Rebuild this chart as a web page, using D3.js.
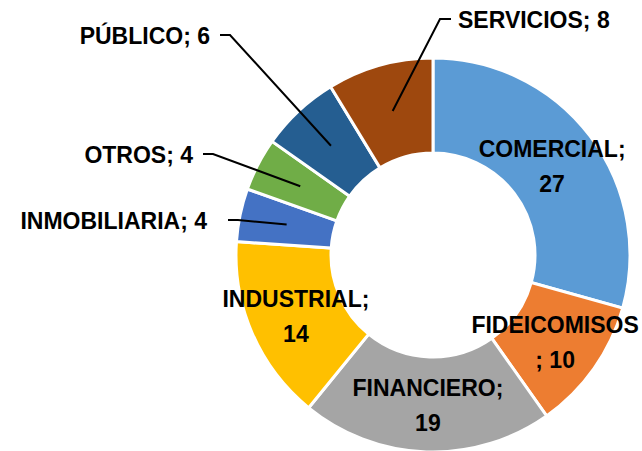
<!DOCTYPE html>
<html>
<head>
<meta charset="utf-8">
<script src="https://cdn.jsdelivr.net/npm/d3@7/dist/d3.min.js"></script>
<style>
  html, body { margin: 0; padding: 0; background: #fff; }
  svg { display: block; }
  text { font-family: "Liberation Sans", Arial, sans-serif; font-weight: bold; font-size: 23px; fill: #000; }
</style>
</head>
<body>
<div id="chart"></div>
<script>
// DATA
const categories = ["COMERCIAL", "FIDEICOMISOS", "FINANCIERO", "INDUSTRIAL", "INMOBILIARIA", "OTROS", "PÚBLICO", "SERVICIOS"];
const values = [27, 10, 19, 14, 4, 4, 6, 8];
const colors = ["#5B9BD5", "#ED7D31", "#A5A5A5", "#FFC000", "#4472C4", "#70AD47", "#255E91", "#9E480E"];

// LAYOUT
const width = 642, height = 451;
const cx = 433, cy = 255;
const outerR = 197, innerR = 102;

// labels drawn outside the ring: elbow of the leader line, side of the text, stub length, gap to text
const outsideLabels = {
  "SERVICIOS":    { elbow: [440, 19],  side: "right", stub: 11, gap: 7 },
  "PÚBLICO":      { elbow: [230, 35],  side: "left",  stub: 10, gap: 10 },
  "OTROS":        { elbow: [213, 154], side: "left",  stub: 10, gap: 10 },
  "INMOBILIARIA": { elbow: [238, 220], side: "left",  stub: 10, gap: 21 }
};
// labels inside the slice, split on two lines
const insideLines = {
  "COMERCIAL":    ["COMERCIAL;", "27"],
  "FIDEICOMISOS": ["FIDEICOMISOS", "; 10"],
  "FINANCIERO":   ["FINANCIERO;", "19"],
  "INDUSTRIAL":   ["INDUSTRIAL;", "14"]
};

const entries = categories.map((c, i) => ({ category: c, value: values[i], color: colors[i] }));

const svg = d3.select("#chart")
  .append("svg")
  .attr("width", width)
  .attr("height", height);

const pie = d3.pie().sort(null).value(d => d.value);
const arc = d3.arc().innerRadius(innerR).outerRadius(outerR);
const arcs = pie(entries);

const g = svg.append("g").attr("transform", `translate(${cx},${cy})`);

// slices
g.selectAll("path")
  .data(arcs)
  .join("path")
    .attr("d", arc)
    .attr("fill", d => d.data.color)
    .attr("stroke", "#fff")
    .attr("stroke-width", 3);

// inside labels
arcs.filter(d => insideLines[d.data.category]).forEach(d => {
  const [x, y] = arc.centroid(d);
  const lines = insideLines[d.data.category];
  g.append("text")
    .attr("text-anchor", "middle")
    .selectAll("tspan")
    .data(lines)
    .join("tspan")
      .attr("x", x)
      .attr("y", (t, i) => y - 8 + i * 35)
      .text(t => t);
});

// outside labels with leader lines
arcs.filter(d => outsideLabels[d.data.category]).forEach(d => {
  const [x, y] = arc.centroid(d);
  const lab = outsideLabels[d.data.category];
  const ex = lab.elbow[0] - cx, ey = lab.elbow[1] - cy;
  const dir = lab.side === "right" ? 1 : -1;
  const sx = ex + dir * lab.stub;

  g.append("polyline")
    .attr("points", [[x, y], [ex, ey], [sx, ey]].map(p => p.join(",")).join(" "))
    .attr("fill", "none")
    .attr("stroke", "#000")
    .attr("stroke-width", 2);

  g.append("text")
    .attr("x", sx + dir * lab.gap)
    .attr("y", ey + 9)
    .attr("text-anchor", dir > 0 ? "start" : "end")
    .text(`${d.data.category}; ${d.data.value}`);
});
</script>
</body>
</html>
